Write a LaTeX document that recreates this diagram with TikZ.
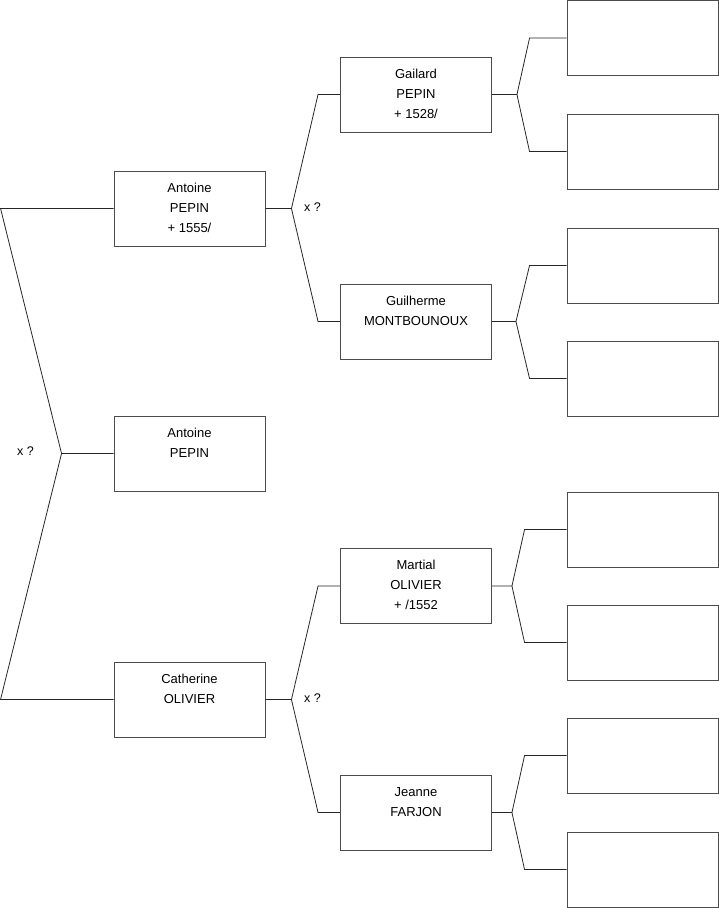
\documentclass[tikz,border=0pt]{standalone}
\usepackage{fontspec}
\setmainfont{Liberation Sans}
\usetikzlibrary{positioning, calc}

\begin{document}
\begin{tikzpicture}[
  x=1pt, y=-1pt,
  person/.style={rectangle, draw=black!70, line width=0.9pt,
                 minimum width=151pt, inner xsep=2pt, inner ysep=0pt,
                 text height=41pt, text depth=34pt, align=center,
                 font=\fontsize{13}{20}\selectfont},
  tall/.style={text height=61pt, text depth=14pt},
  link/.style={draw=black!85, line width=0.8pt},
  couple/.style={font=\fontsize{12.5}{14}\selectfont, inner sep=0pt}
]
\useasboundingbox (0,0) rectangle (719,908);

% ==================== GENERATION 1 ====================
\node[person] (root) at (189.5,453.5) {Antoine\\PEPIN};
\node[person, tall] (father) at (189.5,208.5) {Antoine\\PEPIN\\+ 1555/};
\node[person] (mother) at (189.5,699.5) {Catherine\\OLIVIER};

% ==================== GENERATION 2 ====================
\node[person, tall] (ff) at (416,94.5) {Gailard\\PEPIN\\+ 1528/};
\node[person] (fm) at (416,321.5) {Guilherme\\MONTBOUNOUX};
\node[person, tall] (mf) at (416,586) {Martial\\OLIVIER\\+ /1552};
\node[person] (mm) at (416,812.5) {Jeanne\\FARJON};

% ==================== GENERATION 3 ====================
\node[person] (fff) at (642.5,38) {};
\node[person] (ffm) at (642.5,151.5) {};
\node[person] (fmf) at (642.5,265.5) {};
\node[person] (fmm) at (642.5,378.5) {};
\node[person] (mff) at (642.5,529.5) {};
\node[person] (mfm) at (642.5,642.5) {};
\node[person] (mmf) at (642.5,755.5) {};
\node[person] (mmm) at (642.5,869.5) {};

% ==================== BRACKETS ====================
\coordinate (j0) at ($(root.west)+(-52,0)$);
\draw[link] (father.west) -- ++(-113,0) -- (j0) -- (root.west);
\draw[link] (j0) -- ($(mother.west)+(-113,0)$) -- (mother.west);
\node[couple] (m0) at ($(j0)+(-36,-2)$) {x ?};

\coordinate (j1) at ($(father.east)+(26,0)$);
\draw[link] (ff.west) -- ++(-22,0) -- (j1) -- (father.east);
\draw[link] (j1) -- ($(fm.west)+(-22,0)$) -- (fm.west);
\node[couple] (m1) at ($(j1)+(21,-1)$) {x ?};

\coordinate (j2) at ($(mother.east)+(26,0)$);
\draw[link] (mf.west) -- ++(-22,0) -- (j2) -- (mother.east);
\draw[link] (j2) -- ($(mm.west)+(-22,0)$) -- (mm.west);
\node[couple] (m2) at ($(j2)+(21,-1)$) {x ?};

\coordinate (j3) at ($(ff.east)+(25,0)$);
\draw[link] (fff.west) -- ++(-37,0) -- (j3) -- (ff.east);
\draw[link] (j3) -- ($(ffm.west)+(-37,0)$) -- (ffm.west);

\coordinate (j4) at ($(fm.east)+(24,0)$);
\draw[link] (fmf.west) -- ++(-37,0) -- (j4) -- (fm.east);
\draw[link] (j4) -- ($(fmm.west)+(-37,0)$) -- (fmm.west);

\coordinate (j5) at ($(mf.east)+(20,0)$);
\draw[link] (mff.west) -- ++(-42,0) -- (j5) -- (mf.east);
\draw[link] (j5) -- ($(mfm.west)+(-42,0)$) -- (mfm.west);

\coordinate (j6) at ($(mm.east)+(20,0)$);
\draw[link] (mmf.west) -- ++(-42,0) -- (j6) -- (mm.east);
\draw[link] (j6) -- ($(mmm.west)+(-42,0)$) -- (mmm.west);

\end{tikzpicture}
\end{document}
